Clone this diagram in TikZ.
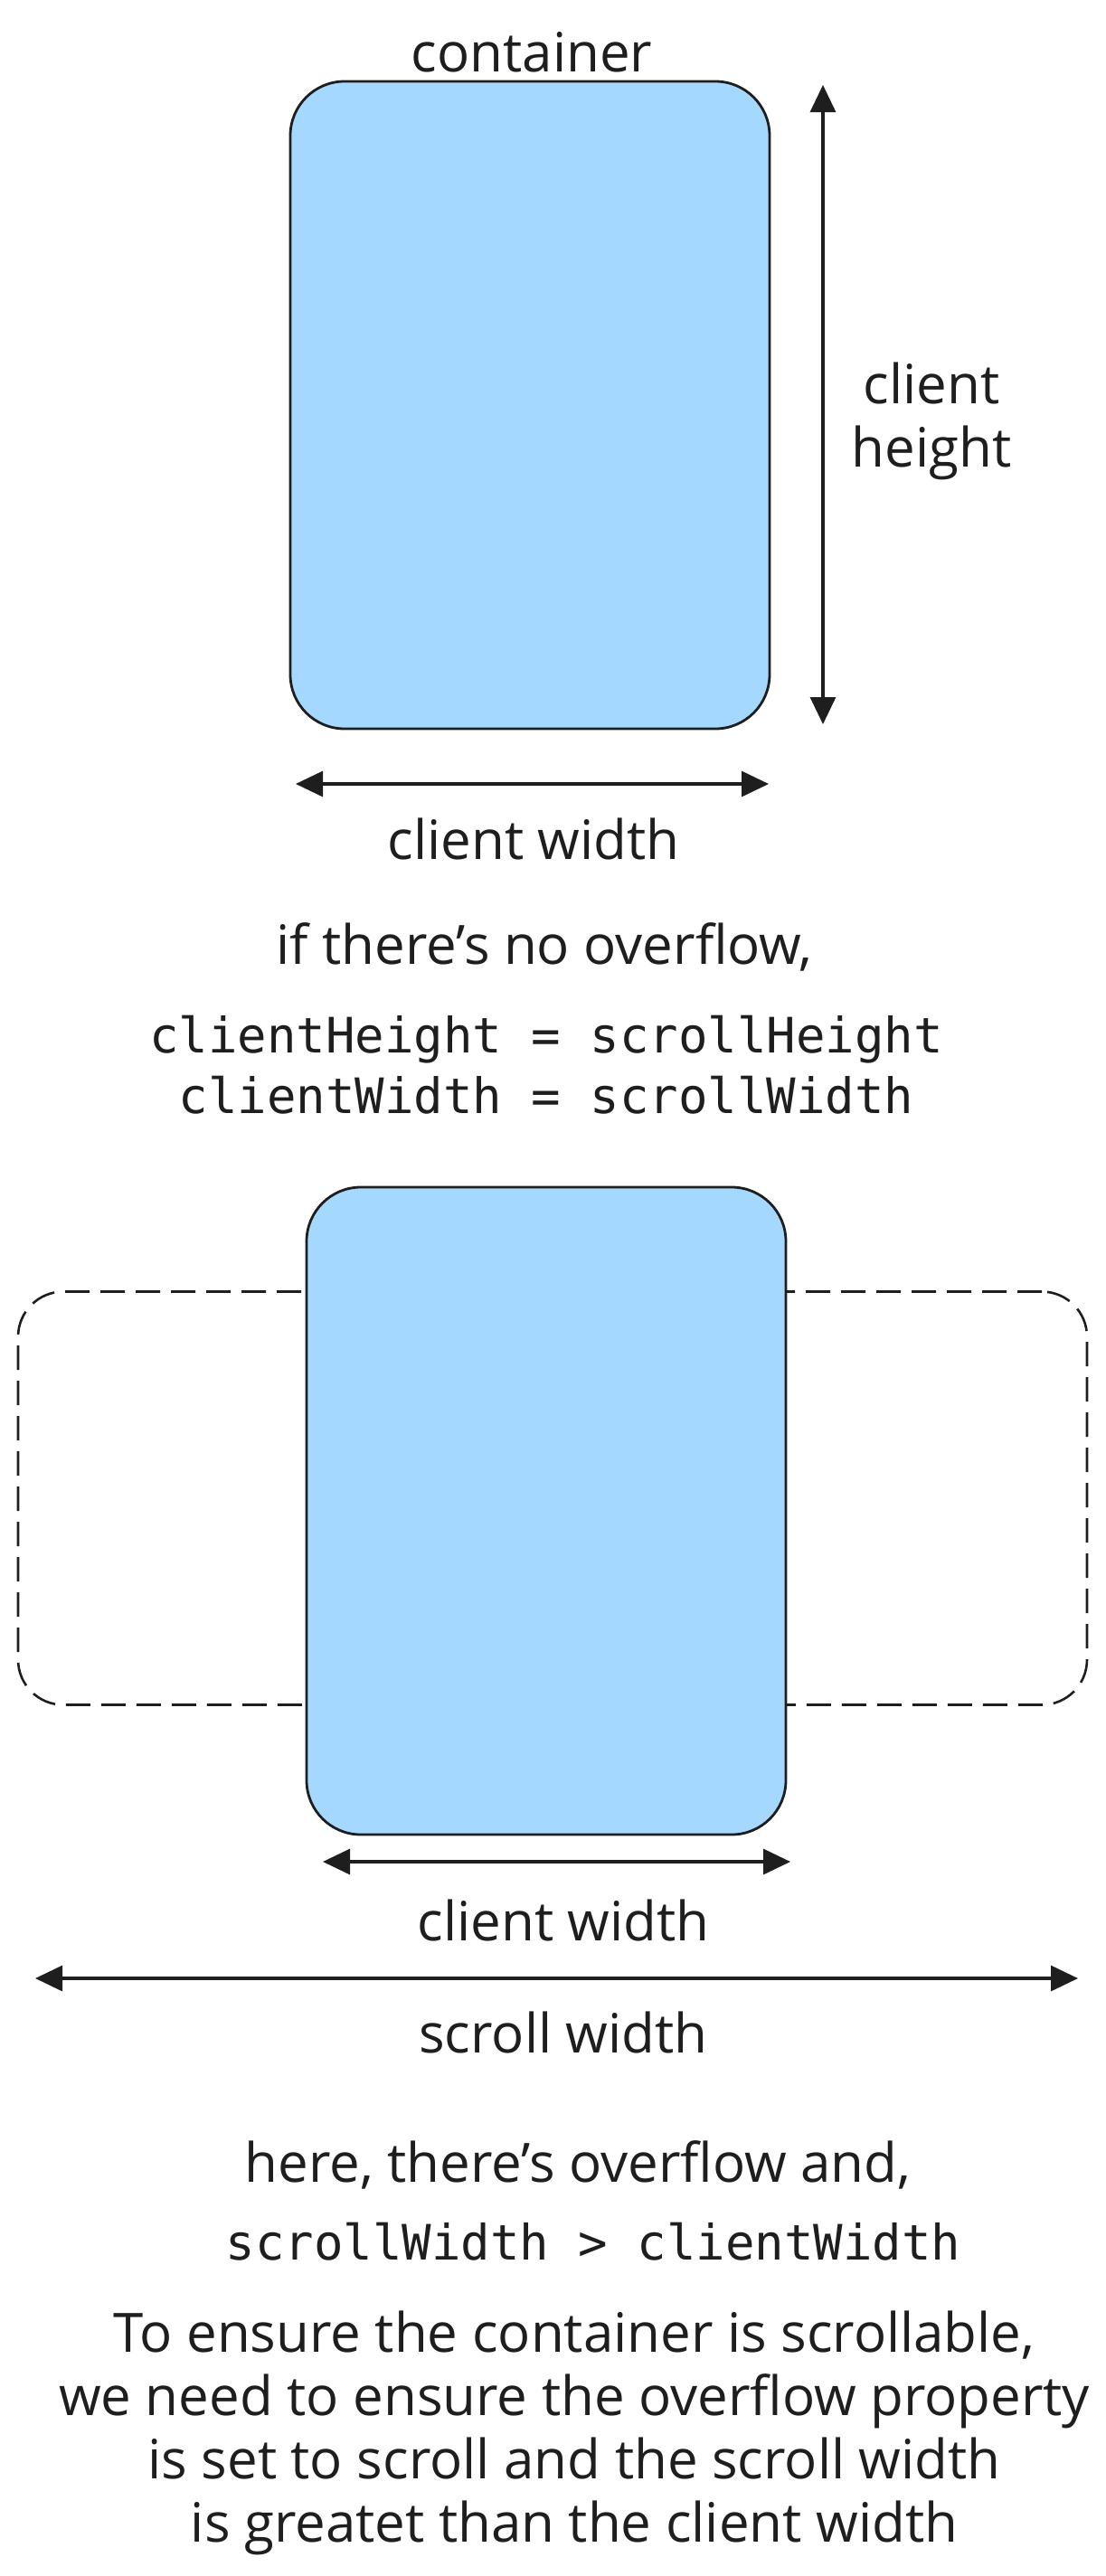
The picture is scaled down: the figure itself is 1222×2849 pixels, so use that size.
\documentclass[tikz,border=0pt]{standalone}
\usepackage{fontspec}
\setmainfont{Open Sans}
\setmonofont{DejaVu Sans Mono}
\usetikzlibrary{arrows.meta, positioning}
\definecolor{boxblue}{HTML}{A5D8FF}
\definecolor{ink}{HTML}{1E1E1E}

\begin{document}
\begin{tikzpicture}[x=0.5pt, y=-0.5pt,
    hand/.style={font=\fontsize{30}{35}\selectfont, text=ink, align=center, inner sep=0pt},
    code/.style={font=\ttfamily\fontsize{27}{33.5}\selectfont, text=ink, align=center, inner sep=0pt},
    panel/.style={draw=ink, line width=1.4pt, fill=boxblue, rounded corners=30pt,
        minimum width=265pt, minimum height=358pt, inner sep=0pt},
    dim/.style={draw=ink, line width=1.6pt,
        {Triangle[length=15pt,width=14pt]}-{Triangle[length=15pt,width=14pt]}}]
    \useasboundingbox (0,0) rectangle (1222,2849);

    % no overflow
    \node[panel] (box1) at (586,448) {};
    \node[hand] (cont) at (588,58) {container};
    \coordinate (htop) at (910,94);
    \coordinate (hbot) at (910,801);
    \draw[dim] (htop) -- (hbot);
    \node[hand] (chgt) at (1030,466) {client\\height};
    \coordinate (wl1) at (327,867);
    \coordinate (wr1) at (850,867);
    \draw[dim] (wl1) -- (wr1);
    \node[hand] (cw1) at (590,928) {client width};

    \node[hand] (noover) at (602,1047) {if there's no overflow,};
    \node[code] (eq1) at (604,1178) {clientHeight = scrollHeight\\clientWidth = scrollWidth};

    % overflow
    \node[draw=ink, line width=1.3pt, dash pattern=on 13.5pt off 6pt, rounded corners=25pt,
        minimum width=591pt, minimum height=228.5pt] (scrollbox) at (611,1657) {};
    \node[panel] (box2) at (604,1671) {};
    \coordinate (wl2) at (357,2059);
    \coordinate (wr2) at (874,2059);
    \draw[dim] (wl2) -- (wr2);
    \node[hand] (cw2) at (623,2124) {client width};
    \coordinate (sl) at (39,2188);
    \coordinate (sr) at (1192,2188);
    \draw[dim] (sl) -- (sr);
    \node[hand] (sw) at (623,2248) {scroll width};

    \node[hand] (over) at (639,2394) {here, there's overflow and,};
    \node[code] (eq2) at (656,2479) {scrollWidth > clientWidth};
    \node[hand] (note) at (635,2691) {To ensure the container is scrollable,\\
        we need to ensure the overflow property\\
        is set to scroll and the scroll width\\
        is greatet than the client width};
\end{tikzpicture}
\end{document}
